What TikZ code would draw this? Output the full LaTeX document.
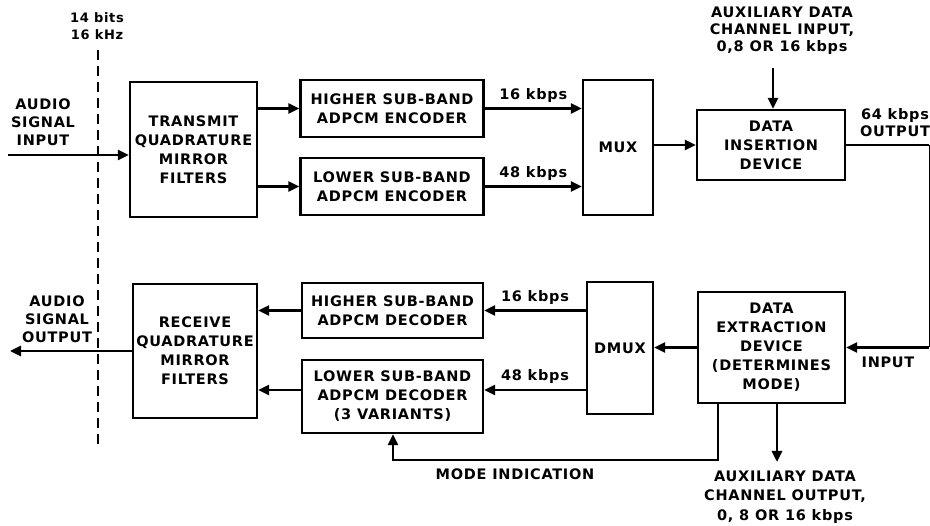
\documentclass[tikz,border=0pt]{standalone}
\usepackage{fontspec}
\setmainfont{DejaVu Sans}[LetterSpace=5]
\usetikzlibrary{arrows.meta, positioning}

\tikzset{
  blk/.style={draw, line width=2.2pt, align=center, inner sep=0pt},
  lbl/.style={align=center, inner sep=0pt},
  sig/.style={line width=2.6pt, -{Triangle[length=11pt,width=10pt]}},
  wire/.style={line width=2.6pt},
}

\begin{document}
\begin{tikzpicture}[x=1pt, y=-1pt, font=\fontsize{14.5}{19}\selectfont\bfseries] % 1 unit = 1 px
	\useasboundingbox (0,0) rectangle (930,526);

	% 发送端
	\node[blk, minimum width=127, minimum height=135] (tqmf) at (193.5,149.5) {TRANSMIT\\QUADRATURE\\MIRROR\\FILTERS};
	\node[blk, minimum width=183, minimum height=57] (henc) at (392,108.5) {HIGHER SUB-BAND\\ADPCM ENCODER};
	\node[blk, minimum width=183, minimum height=57] (lenc) at (392,186.5) {LOWER SUB-BAND\\ADPCM ENCODER};
	\node[blk, minimum width=70, minimum height=135] (mux) at (618,147.5) {MUX};
	\node[blk, minimum width=148, minimum height=70] (did) at (771,145) {DATA\\INSERTION\\DEVICE};

	\node[lbl, font=\fontsize{13}{17}\selectfont\bfseries] (bits) at (97,26) {14 bits\\16 kHz};
	\node[lbl, font=\fontsize{14.5}{18}\selectfont\bfseries] (aintxt) at (43,122) {AUDIO\\SIGNAL\\INPUT};
	\node[lbl, font=\fontsize{14.5}{17}\selectfont\bfseries] (auxin) at (782,31) {AUXILIARY DATA\\CHANNEL INPUT,\\0,8 OR 16 kbps};
	\node[lbl, font=\fontsize{14.5}{17}\selectfont\bfseries] (outtxt) at (895,123) {64 kbps\\OUTPUT};

	% 接收端
	\node[blk, minimum width=124, minimum height=134] (rqmf) at (195,351) {RECEIVE\\QUADRATURE\\MIRROR\\FILTERS};
	\node[blk, minimum width=181, minimum height=55] (hdec) at (392.5,310.5) {HIGHER SUB-BAND\\ADPCM DECODER};
	\node[blk, minimum width=181, minimum height=73] (ldec) at (392.5,396.5) {LOWER SUB-BAND\\ADPCM DECODER\\(3 VARIANTS)};
	\node[blk, minimum width=66, minimum height=132] (dmux) at (620,348) {DMUX};
	\node[blk, minimum width=147, minimum height=111] (ded) at (771.5,347.5) {DATA\\EXTRACTION\\DEVICE\\(DETERMINES\\MODE)};

	\node[lbl, font=\fontsize{14.5}{18}\selectfont\bfseries] (aouttxt) at (57,319) {AUDIO\\SIGNAL\\OUTPUT};
	\node[lbl] (intxt) at (888,362) {INPUT};
	\node[lbl] (modetxt) at (515,474) {MODE INDICATION};
	\node[lbl, font=\fontsize{14.5}{19.5}\selectfont\bfseries] (auxout) at (785,497) {AUXILIARY DATA\\CHANNEL OUTPUT,\\0, 8 OR 16 kbps};

	\coordinate (ain) at (8,155);
	\coordinate (aout) at (10,351);
	\coordinate (dtop) at (98,50);
	\coordinate (dbot) at (98,447);
	\coordinate (outR) at (929,145);
	\coordinate (inR) at (929,347.5);
	\coordinate (mx) at (718,460);
	\coordinate (ml) at (393,460);
	\coordinate (ao) at (777,462);
	\coordinate (ai) at (773,68);
	\coordinate (ldecE) at ([yshift=6.5pt]ldec.east);
	\coordinate (ldecW) at ([yshift=6.5pt]ldec.west);

	% 分界虚线
	\draw[line width=2pt, dash pattern=on 10pt off 6pt] (dtop) -- (dbot);

	\draw[sig] (ain) -- (tqmf.west |- ain);
	\draw[sig] (tqmf.east |- henc.west) -- (henc.west);
	\draw[sig] (tqmf.east |- lenc.west) -- (lenc.west);
	\draw[sig] (henc.east) -- (henc.east -| mux.west) node[lbl, midway, above=5pt] (t16) {16 kbps};
	\draw[sig] (lenc.east) -- (lenc.east -| mux.west) node[lbl, midway, above=5pt] (t48) {48 kbps};
	\draw[sig] (mux.east |- did.west) -- (did.west);
	\draw[sig] (ai) -- (ai |- did.north);
	\draw[wire] (did.east) -- (outR);
	\draw[line width=0.8pt] (outR) -- (inR);

	\draw[sig] (inR) -- (ded.east);
	\draw[sig] (ded.west) -- (ded.west -| dmux.east);
	\draw[sig] (dmux.west |- hdec.east) -- (hdec.east) node[lbl, midway, above=5pt] (r16) {16 kbps};
	\draw[sig] (dmux.west |- ldecE) -- (ldecE) node[lbl, midway, above=5pt] (r48) {48 kbps};
	\draw[sig] (hdec.west) -- (hdec.west -| rqmf.east);
	\draw[sig] (ldecW) -- (ldecW -| rqmf.east);
	\draw[sig] (rqmf.west) -- (aout);
	\draw[sig] (ded.south -| ao) -- (ao);
	\draw[sig] (ded.south -| mx) -- (mx) -- (ml) -- (ml |- ldec.south);
\end{tikzpicture}
\end{document}
